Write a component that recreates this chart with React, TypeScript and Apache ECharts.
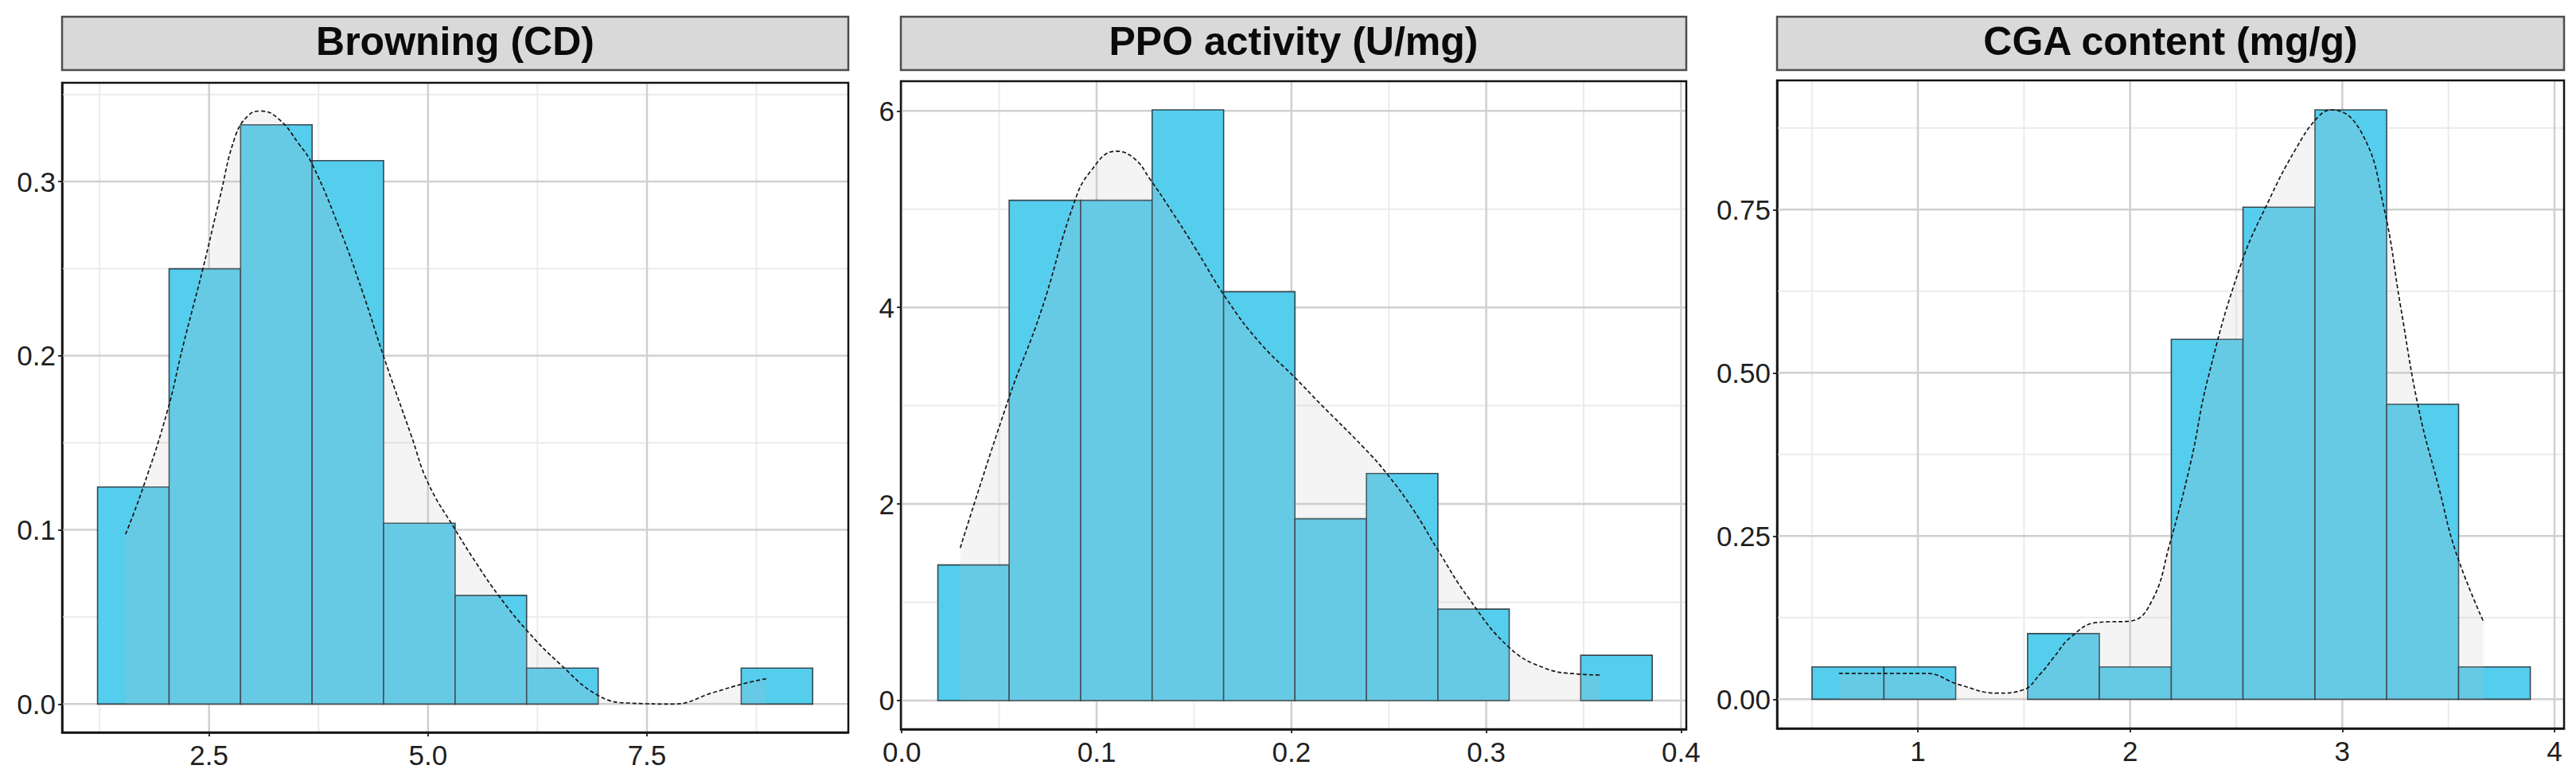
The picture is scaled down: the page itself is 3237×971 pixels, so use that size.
import React, { useEffect, useRef } from "react";
import * as echarts from "echarts";

// ---------- DATA ----------
const TITLES = ["Browning (CD)", "PPO activity (U/mg)", "CGA content (mg/g)"];

// Browning (CD)
const BROWNING_EDGES = [1.227, 2.044, 2.86, 3.677, 4.493, 5.31, 6.126, 6.943, 7.759, 8.576, 9.392];
const BROWNING_DENSITY = [0.1246, 0.2499, 0.3326, 0.312, 0.1038, 0.0624, 0.0206, 0, 0, 0.0206];
const BROWNING_KDE_X = [1.547, 1.745, 2.023, 2.2, 2.43, 2.62, 2.8, 2.95, 3.09, 3.3, 3.52, 3.68, 3.99, 4.25, 4.49, 4.81, 5.0, 5.3, 5.55, 5.81, 6.14, 6.5, 6.94, 7.31, 7.81, 8.25, 8.62, 8.86];
const BROWNING_KDE_Y = [0.0975, 0.124, 0.168, 0.205, 0.25, 0.29, 0.326, 0.338, 0.3405, 0.3357, 0.322, 0.3097, 0.273, 0.237, 0.2, 0.154, 0.127, 0.101, 0.081, 0.062, 0.0416, 0.0233, 0.005, 0.0005, 0.0, 0.0065, 0.0119, 0.0145];
const BROWNING_X_TICKS = [2.5, 5.0, 7.5];
const BROWNING_X_MINOR = [1.25, 3.75, 6.25, 8.75];
const BROWNING_Y_TICKS = [0, 0.1, 0.2, 0.3];
const BROWNING_Y_MINOR = [0.05, 0.15, 0.25, 0.35];

// PPO activity (U/mg)
const PPO_EDGES = [0.0185, 0.0551, 0.0918, 0.1285, 0.1652, 0.2018, 0.2385, 0.2752, 0.3118, 0.3485, 0.3852];
const PPO_DENSITY = [1.38, 5.09, 5.09, 6.01, 4.16, 1.85, 2.31, 0.93, 0, 0.46];
const PPO_KDE_X = [0.03, 0.055, 0.0713, 0.0882, 0.0967, 0.1099, 0.1191, 0.1276, 0.1388, 0.1501, 0.1669, 0.1838, 0.2016, 0.2148, 0.2373, 0.2485, 0.2626, 0.2749, 0.2907, 0.3118, 0.3301, 0.3469, 0.3582];
const PPO_KDE_Y = [1.553, 3.08, 3.95, 5.05, 5.38, 5.59, 5.52, 5.3, 4.97, 4.62, 4.08, 3.64, 3.29, 3.02, 2.57, 2.32, 1.94, 1.54, 1.05, 0.54, 0.33, 0.27, 0.26];
const PPO_X_TICKS = [0, 0.1, 0.2, 0.3, 0.4];
const PPO_X_MINOR = [0.05, 0.15, 0.25, 0.35];
const PPO_Y_TICKS = [0, 2, 4, 6];
const PPO_Y_MINOR = [1, 3, 5];

// CGA content (mg/g)
const CGA_EDGES = [0.501, 0.84, 1.178, 1.517, 1.855, 2.194, 2.532, 2.871, 3.209, 3.548, 3.886];
const CGA_DENSITY = [0.0495, 0.0495, 0, 0.1006, 0.0495, 0.5514, 0.7537, 0.9028, 0.452, 0.0495];
const CGA_KDE_X = [0.628, 1.037, 1.195, 1.377, 1.494, 1.58, 1.637, 1.72, 1.845, 2.001, 2.105, 2.183, 2.286, 2.365, 2.52, 2.65, 2.78, 2.884, 2.95, 3.092, 3.196, 3.274, 3.36, 3.456, 3.535, 3.664];
const CGA_KDE_Y = [0.0397, 0.0397, 0.0223, 0.0093, 0.0141, 0.04, 0.0629, 0.095, 0.1177, 0.1198, 0.1523, 0.2334, 0.3634, 0.4893, 0.664, 0.7615, 0.8426, 0.8913, 0.9028, 0.867, 0.7533, 0.603, 0.4447, 0.3229, 0.2254, 0.1198];
const CGA_X_TICKS = [1, 2, 3, 4];
const CGA_X_MINOR = [0.5, 1.5, 2.5, 3.5];
const CGA_Y_TICKS = [0, 0.25, 0.5, 0.75];
const CGA_Y_MINOR = [0.125, 0.375, 0.625, 0.875];

// ---------- LAYOUT / STYLE ----------
const FONT = '"Liberation Sans", Arial, Helvetica, sans-serif';
const BAR_FILL = "#55CDED";
const BAR_STROKE = "rgba(35,45,50,0.85)";

const PANELS = [
  {
    title: TITLES[0], edges: BROWNING_EDGES, dens: BROWNING_DENSITY, kx: BROWNING_KDE_X, ky: BROWNING_KDE_Y,
    xTicks: BROWNING_X_TICKS, xMinor: BROWNING_X_MINOR, yTicks: BROWNING_Y_TICKS, yMinor: BROWNING_Y_MINOR,
    xRange: [0.822, 9.799], yRange: [-0.0163, 0.3567], xDec: 1, yDec: 1,
    box: { left: 78, top: 104, width: 988, height: 816 },
  },
  {
    title: TITLES[1], edges: PPO_EDGES, dens: PPO_DENSITY, kx: PPO_KDE_X, ky: PPO_KDE_Y,
    xTicks: PPO_X_TICKS, xMinor: PPO_X_MINOR, yTicks: PPO_Y_TICKS, yMinor: PPO_Y_MINOR,
    xRange: [-0.0005, 0.4027], yRange: [-0.292, 6.302], xDec: 1, yDec: 0,
    box: { left: 1132, top: 102, width: 987, height: 814 },
  },
  {
    title: TITLES[2], edges: CGA_EDGES, dens: CGA_DENSITY, kx: CGA_KDE_X, ky: CGA_KDE_Y,
    xTicks: CGA_X_TICKS, xMinor: CGA_X_MINOR, yTicks: CGA_Y_TICKS, yMinor: CGA_Y_MINOR,
    xRange: [0.336, 4.045], yRange: [-0.0447, 0.948], xDec: 0, yDec: 2,
    box: { left: 2233, top: 101, width: 989, height: 814 },
  },
];

function buildOption() {
  const grid: any[] = [];
  const xAxis: any[] = [];
  const yAxis: any[] = [];
  const series: any[] = [];
  const graphic: any[] = [];

  PANELS.forEach((p, i) => {
    grid.push({ ...p.box, show: true, backgroundColor: "#ffffff", borderWidth: 0 });

    xAxis.push({
      type: "value", gridIndex: i, min: p.xRange[0], max: p.xRange[1],
      splitLine: { show: false },
      axisLine: { show: true, onZero: false, lineStyle: { color: "#111", width: 2.5 } },
      axisTick: { show: true, customValues: p.xTicks, length: 5, lineStyle: { color: "#333", width: 2 } },
      axisLabel: {
        customValues: p.xTicks, margin: 11, fontSize: 35, color: "#1f1f1f", fontFamily: FONT,
        formatter: (v: number) => Number(v).toFixed(p.xDec),
      },
    });
    yAxis.push({
      type: "value", gridIndex: i, min: p.yRange[0], max: p.yRange[1],
      splitLine: { show: false },
      axisLine: { show: true, onZero: false, lineStyle: { color: "#111", width: 2.5 } },
      axisTick: { show: true, customValues: p.yTicks, length: 5, lineStyle: { color: "#333", width: 2 } },
      axisLabel: {
        customValues: p.yTicks, margin: 8, fontSize: 35, color: "#1f1f1f", fontFamily: FONT,
        formatter: (v: number) => Number(v).toFixed(p.yDec),
      },
    });

    // grid lines (through the axis scales)
    const xMid = (p.xRange[0] + p.xRange[1]) / 2;
    const yMid = (p.yRange[0] + p.yRange[1]) / 2;
    const lines: number[][] = [];
    p.xMinor.forEach((v) => lines.push([v, yMid, 1]));
    p.yMinor.forEach((v) => lines.push([xMid, v, 3]));
    p.xTicks.forEach((v) => lines.push([v, yMid, 0]));
    p.yTicks.forEach((v) => lines.push([xMid, v, 2]));
    series.push({
      type: "custom", xAxisIndex: i, yAxisIndex: i, z: 1, silent: true, clip: true,
      data: lines, encode: { x: 0, y: 1 },
      renderItem: (_params: any, api: any) => {
        const kind = api.value(2);
        let a: number[], b: number[];
        if (kind < 2) {
          const v = api.value(0);
          a = api.coord([v, p.yRange[0]]);
          b = api.coord([v, p.yRange[1]]);
        } else {
          const v = api.value(1);
          a = api.coord([p.xRange[0], v]);
          b = api.coord([p.xRange[1], v]);
        }
        const major = kind === 0 || kind === 2;
        return {
          type: "line",
          shape: { x1: a[0], y1: a[1], x2: b[0], y2: b[1] },
          style: { stroke: major ? "#d0d0d0" : "#ebebeb", lineWidth: major ? 2.5 : 2 },
        };
      },
    });

    // histogram bars
    const bins = p.dens.map((d, k) => [p.edges[k], p.edges[k + 1], d]);
    series.push({
      type: "custom", xAxisIndex: i, yAxisIndex: i, z: 2, silent: true, clip: true,
      data: bins, encode: { x: [0, 1], y: 2 },
      renderItem: (_params: any, api: any) => {
        const h = api.value(2);
        if (!(h > 0)) return null;
        const p0 = api.coord([api.value(0), 0]);
        const p1 = api.coord([api.value(1), h]);
        return {
          type: "rect",
          shape: { x: p0[0], y: p1[1], width: p1[0] - p0[0], height: p0[1] - p1[1] },
          style: { fill: BAR_FILL, stroke: BAR_STROKE, lineWidth: 1.6 },
        };
      },
    });

    // density curve with translucent grey fill
    series.push({
      type: "line", xAxisIndex: i, yAxisIndex: i, z: 3, silent: true,
      data: p.kx.map((x, k) => [x, p.ky[k]]),
      smooth: 0.45, showSymbol: false, symbol: "none",
      lineStyle: { color: "#161616", width: 1.7, type: [5, 3] },
      areaStyle: { color: "rgba(190,190,190,0.24)", origin: 0 },
    });

    // facet strip
    graphic.push({
      type: "rect", z: 50,
      shape: { x: p.box.left, y: 21, width: p.box.width, height: 67 },
      style: { fill: "#d9d9d9", stroke: "#4d4d4d", lineWidth: 2.5 },
    });
    graphic.push({
      type: "text", z: 51,
      x: p.box.left + p.box.width / 2, y: 52,
      style: {
        text: p.title, fill: "#0a0a0a", align: "center", verticalAlign: "middle",
        font: `bold 50px ${FONT}`,
      },
    });
    // panel border
    graphic.push({
      type: "rect", z: 60,
      shape: { x: p.box.left, y: p.box.top, width: p.box.width, height: p.box.height },
      style: { fill: "none", stroke: "#141414", lineWidth: 2.5 },
    });
  });

  return {
    animation: false,
    backgroundColor: "#ffffff",
    grid, xAxis, yAxis, series, graphic,
  };
}

export default function App() {
  const ref = useRef<HTMLDivElement>(null);
  useEffect(() => {
    if (!ref.current) return;
    const chart = echarts.init(ref.current, undefined, { renderer: "svg" });
    chart.setOption(buildOption() as any);
    return () => chart.dispose();
  }, []);
  return (
    <div
      ref={ref}
      style={{ position: "absolute", left: 0, top: 0, width: 3237, height: 971, background: "#fff" }}
    />
  );
}
